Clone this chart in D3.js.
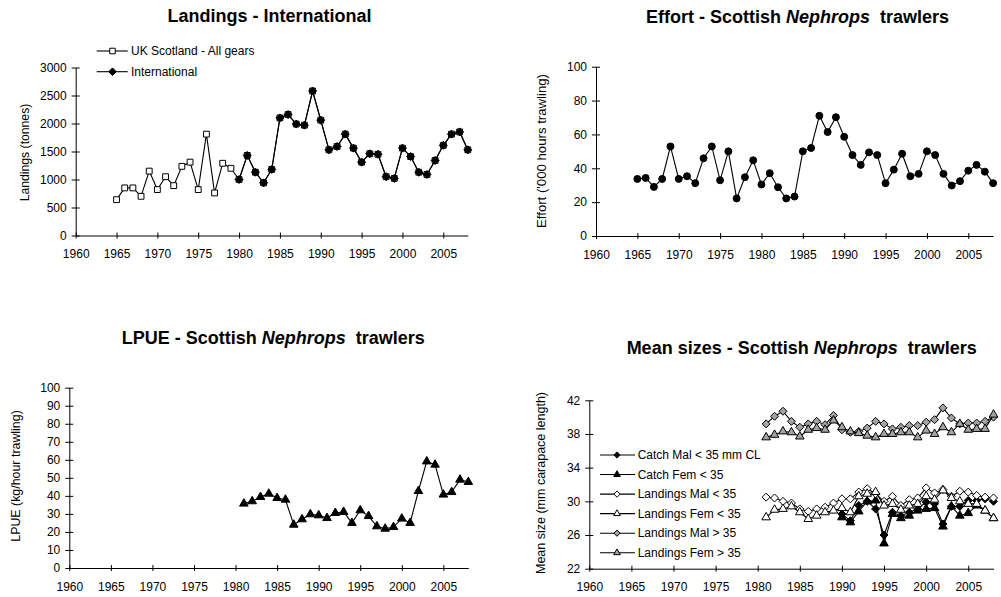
<!DOCTYPE html>
<html>
<head>
<meta charset="utf-8">
<script src="https://cdn.jsdelivr.net/npm/d3@7"></script>
<style>
  html, body { margin: 0; padding: 0; background: #fff; }
  svg { display: block; font-family: Arial, "Liberation Sans", sans-serif; }
</style>
</head>
<body>
<svg id="chart" width="1001" height="597"></svg>
<script>
// ---- Years ----
const years1965 = d3.range(1965, 2009);
const years1980 = d3.range(1980, 2009);
const years1981 = d3.range(1981, 2009);
const years1990 = d3.range(1990, 2009);

// ---- Landings (tonnes) ----
const landingsScotland = [640, 850, 850, 700, 1150, 820, 1050, 890, 1235, 1310,
  820, 1810, 760, 1290, 1200, 1000, 1430, 1130, 940, 1180,
  2100, 2160, 1990, 1970, 2580, 2060, 1530, 1590, 1810, 1560,
  1310, 1460, 1450, 1050, 1020, 1560, 1410, 1130, 1090, 1340,
  1610, 1810, 1850, 1530];
const landingsInternational = [1000, 1430, 1130, 940, 1180,
  2100, 2160, 1990, 1970, 2580, 2060, 1530, 1590, 1810, 1560,
  1310, 1460, 1450, 1050, 1020, 1560, 1410, 1130, 1090, 1340,
  1610, 1810, 1850, 1530];

// ---- Effort ('000 hours trawling) ----
const effort = [33.7, 34.3, 29.0, 33.7, 52.9, 33.7, 35.3, 31.2, 45.9, 52.9,
  32.9, 50.0, 22.2, 34.7, 44.7, 30.4, 37.1, 28.8, 22.2, 23.3,
  50.0, 52.0, 71.0, 61.4, 70.2, 58.6, 47.8, 42.0, 49.4, 47.8,
  31.2, 39.2, 48.6, 35.3, 36.7, 50.0, 47.8, 36.7, 29.8, 32.4,
  38.6, 42.0, 38.0, 31.2];

// ---- LPUE (kg/hour trawling) ----
const lpue = [35.7, 37.0, 39.4, 41.2, 38.8, 37.9, 24.0, 27.0, 29.8, 29.2,
  27.7, 30.5, 31.1, 25.0, 32.0, 28.8, 23.1, 21.8, 22.7, 27.4,
  25.0, 42.7, 59.1, 57.3, 40.7, 42.1, 49.0, 47.7];

// ---- Mean sizes (mm carapace length) ----
const catchMal = [28.5, 27.7, 29.5, 30.0, 29.1, 26.0, 28.7, 28.3, 28.7, 29.1,
  29.9, 29.7, 27.3, 29.4, 29.4, 30.1, 30.1, 30.3, 30.0];
const catchFem = [28.1, 27.5, 28.8, 30.0, 30.1, 25.0, 28.5, 28.0, 28.3, 28.9,
  29.1, 29.2, 27.0, 29.4, 28.3, 28.6, 29.5, 28.9, 28.0];
const landMalUnder = [30.5, 30.4, 30.0, 29.8, 29.1, 28.8, 29.1, 29.3, 29.8, 30.3,
  30.3, 31.1, 31.5, 30.9, 30.0, 30.6, 29.5, 30.2, 30.4, 31.6,
  31.0, 31.4, 30.6, 31.2, 31.1, 30.7, 30.5, 30.4];
const landFemUnder = [28.1, 29.0, 29.1, 29.4, 28.7, 27.9, 28.3, 28.7, 28.9, 29.2,
  28.7, 30.6, 30.9, 31.1, 29.5, 29.7, 29.0, 29.5, 29.7, 30.6,
  30.2, 31.3, 30.4, 30.0, 29.7, 29.7, 28.9, 28.0];
const landMalOver = [39.2, 40.1, 40.7, 39.5, 38.8, 39.2, 39.5, 39.1, 40.2, 38.5,
  38.2, 38.3, 38.7, 39.5, 39.2, 38.6, 38.8, 39.0, 39.0, 39.4,
  39.7, 41.1, 39.9, 39.2, 39.3, 39.3, 39.5, 40.0];
const landFemOver = [37.6, 37.9, 38.3, 38.2, 37.7, 38.5, 38.7, 38.5, 39.6, 38.8,
  38.3, 38.1, 37.8, 37.6, 38.0, 38.0, 38.2, 38.2, 37.6, 38.4,
  38.0, 38.8, 38.2, 39.2, 38.5, 38.6, 38.6, 40.3];

// ---- Tick values ----
const xTickYears = [1960, 1965, 1970, 1975, 1980, 1985, 1990, 1995, 2000, 2005];
const landingsTicks = [0, 500, 1000, 1500, 2000, 2500, 3000];
const effortTicks = [0, 20, 40, 60, 80, 100];
const lpueTicks = [0, 10, 20, 30, 40, 50, 60, 70, 80, 90, 100];
const sizeTicks = [22, 26, 30, 34, 38, 42];

const svg = d3.select("#chart");
const GREY = "#a3a3a3";
const FONT = "Arial, 'Liberation Sans', sans-serif";

// Diamond: a square turned 45 degrees
const diamond = {
  draw(ctx, size) {
    const r = Math.sqrt(size / 2);
    ctx.moveTo(0, -r); ctx.lineTo(r, 0); ctx.lineTo(0, r); ctx.lineTo(-r, 0); ctx.closePath();
  }
};
const symbolTypes = {
  square: d3.symbolSquare,
  diamond: diamond,
  circle: d3.symbolCircle,
  triangle: d3.symbolTriangle
};
const symbolSizes = { square: 34, diamond: 32, circle: 38, triangle: 32 };
const marker = (shape, scale = 1) => d3.symbol(symbolTypes[shape], symbolSizes[shape] * scale)();

function drawPanel(cfg) {
  const g = svg.append("g");
  const x = d3.scaleLinear().domain([1960, 2008]).range([cfg.left, cfg.right]);
  const y = d3.scaleLinear().domain(cfg.yDomain).range([cfg.bottom, cfg.top]);

  // Title
  const t = g.append("text")
    .attr("x", cfg.titleX).attr("y", cfg.titleY)
    .attr("text-anchor", "middle")
    .attr("font-size", 18).attr("font-weight", "bold").attr("fill", "#000");
  cfg.title.forEach(part => {
    const s = t.append("tspan").text(part.text);
    if (part.italic) s.attr("font-style", "italic");
  });

  // Y axis
  const yAxis = g.append("g")
    .attr("transform", `translate(${cfg.left},0)`)
    .call(d3.axisLeft(y).tickValues(cfg.yTicks).tickFormat(d3.format("d"))
      .tickSizeInner(4).tickSizeOuter(0).tickPadding(5));
  yAxis.selectAll(".tick line").attr("x2", 4).attr("x1", -4);
  yAxis.selectAll("text").attr("font-size", 12).attr("font-family", FONT).attr("fill", "#000");
  yAxis.select(".domain").attr("stroke", "#000");

  // X axis
  const xAxis = g.append("g")
    .attr("transform", `translate(0,${cfg.bottom})`)
    .call(d3.axisBottom(x).tickValues(xTickYears).tickFormat(d3.format("d"))
      .tickSizeInner(3).tickSizeOuter(0).tickPadding(11));
  xAxis.selectAll(".tick line").attr("y1", -3).attr("y2", 3);
  xAxis.selectAll("text").attr("font-size", 12).attr("font-family", FONT).attr("fill", "#000");
  xAxis.select(".domain").attr("stroke", "#000");

  // Y axis title
  g.append("text")
    .attr("transform", `translate(${cfg.yTitleX},${cfg.yTitleY}) rotate(-90)`)
    .attr("text-anchor", "middle").attr("dy", "0.35em")
    .attr("font-size", cfg.yTitleSize).attr("fill", "#000")
    .text(cfg.yTitle);

  // Series
  cfg.series.forEach(s => {
    const pts = s.years.map((yr, i) => [yr, s.values[i]]);
    g.append("path")
      .datum(pts)
      .attr("fill", "none").attr("stroke", "#000").attr("stroke-width", 1.1)
      .attr("d", d3.line().x(d => x(d[0])).y(d => y(d[1])));
    g.append("g").selectAll("path")
      .data(pts).join("path")
      .attr("transform", d => `translate(${x(d[0])},${y(d[1])})`)
      .attr("d", marker(s.shape))
      .attr("fill", s.fill).attr("stroke", "#000").attr("stroke-width", 1);
  });

  // Legend
  if (cfg.legend) {
    const L = cfg.legend;
    cfg.series.forEach((s, i) => {
      const ly = L.y0 + i * L.step;
      const row = g.append("g");
      row.append("line")
        .attr("x1", L.x1).attr("x2", L.x2).attr("y1", ly).attr("y2", ly)
        .attr("stroke", "#000").attr("stroke-width", 1.1);
      row.append("path")
        .attr("transform", `translate(${L.mx},${ly})`)
        .attr("d", marker(s.shape, L.markerScale))
        .attr("fill", s.fill).attr("stroke", "#000");
      row.append("text")
        .attr("x", L.tx).attr("y", ly).attr("dy", "0.35em")
        .attr("font-size", 12).attr("fill", "#000")
        .text(s.name);
    });
  }
}

const sciTitle = (lead) => [
  { text: lead + " - Scottish " },
  { text: "Nephrops", italic: true },
  { text: "\u00a0 trawlers" }
];

// Landings - International
drawPanel({
  left: 75.7, right: 467.8, top: 67.5, bottom: 235.5,
  yDomain: [0, 3000], yTicks: landingsTicks,
  title: [{ text: "Landings - International" }], titleX: 269.5, titleY: 22,
  yTitle: "Landings (tonnes)", yTitleX: 25, yTitleY: 152.5, yTitleSize: 12.2,
  series: [
    { name: "UK Scotland - All gears", years: years1965, values: landingsScotland, shape: "square", fill: "#fff" },
    { name: "International", years: years1980, values: landingsInternational, shape: "diamond", fill: "#000" }
  ],
  legend: { x1: 96.7, x2: 127.7, mx: 112.5, tx: 131, y0: 51, step: 20.7, markerScale: 0.9 }
});

// Effort
drawPanel({
  left: 596, right: 993.1, top: 66.7, bottom: 236,
  yDomain: [0, 100], yTicks: effortTicks,
  title: sciTitle("Effort"), titleX: 797.5, titleY: 22.5,
  yTitle: "Effort ('000 hours trawling)", yTitleX: 541.5, yTitleY: 151, yTitleSize: 13.2,
  series: [
    { name: "Effort", years: years1965, values: effort, shape: "circle", fill: "#000" }
  ]
});

// LPUE
drawPanel({
  left: 69.3, right: 468.3, top: 387.7, bottom: 568,
  yDomain: [0, 100], yTicks: lpueTicks,
  title: sciTitle("LPUE"), titleX: 273.3, titleY: 343.7,
  yTitle: "LPUE (kg/hour trawling)", yTitleX: 15.8, yTitleY: 476, yTitleSize: 12.4,
  series: [
    { name: "LPUE", years: years1981, values: lpue, shape: "triangle", fill: "#000" }
  ]
});

// Mean sizes
drawPanel({
  left: 589.3, right: 993.5, top: 400.3, bottom: 568.7,
  yDomain: [22, 42], yTicks: sizeTicks,
  title: sciTitle("Mean sizes"), titleX: 801.7, titleY: 353.7,
  yTitle: "Mean size (mm carapace length)", yTitleX: 540.8, yTitleY: 483, yTitleSize: 12.5,
  series: [
    { name: "Catch Mal < 35 mm CL", years: years1990, values: catchMal, shape: "diamond", fill: "#000" },
    { name: "Catch Fem < 35", years: years1990, values: catchFem, shape: "triangle", fill: "#000" },
    { name: "Landings Mal < 35", years: years1981, values: landMalUnder, shape: "diamond", fill: "#fff" },
    { name: "Landings Fem < 35", years: years1981, values: landFemUnder, shape: "triangle", fill: "#fff" },
    { name: "Landings Mal > 35", years: years1981, values: landMalOver, shape: "diamond", fill: GREY },
    { name: "Landings Fem > 35", years: years1981, values: landFemOver, shape: "triangle", fill: GREY }
  ],
  legend: { x1: 600, x2: 635, mx: 617, tx: 637.7, y0: 455, step: 19.55, markerScale: 0.6 }
});
</script>
</body>
</html>
